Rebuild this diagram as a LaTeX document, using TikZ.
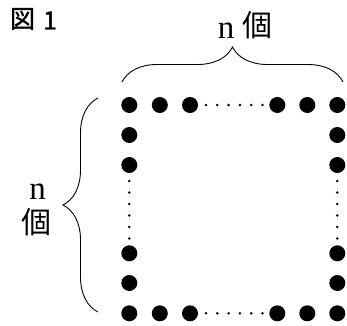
\documentclass[tikz,border=0pt]{standalone}
\usepackage{fontspec}
\newfontfamily\jpfont{Noto Sans CJK JP}
\newfontfamily\jpboldfont[FakeBold=1.2]{Noto Sans CJK JP}
\newfontfamily\serifn{Liberation Serif}
\usetikzlibrary{decorations.pathreplacing}
\begin{document}
\begin{tikzpicture}[x=1pt,y=-1pt,
  bigdot/.style={circle,fill=black,inner sep=0pt,minimum size=16pt},
  smalldot/.style={circle,fill=black,inner sep=0pt,minimum size=2.8pt},
  bracestyle/.style={decorate,decoration={brace,amplitude=35pt},line width=0.9pt},
  lbl/.style={inner sep=0pt,font=\serifn\fontsize{33}{35}\selectfont},
  jp/.style={inner sep=0pt,text height=25pt,text depth=1.2pt,font=\jpfont\fontsize{30}{32}\selectfont},
  title/.style={inner sep=0pt,font=\jpboldfont\fontsize{25}{27}\selectfont}]
\useasboundingbox (0,0) rectangle (347,325);
% corner and side dots
\foreach \name/\x in {c1/129.3,c2/159.8,c3/190,c4/277.3,c5/307.3,c6/337.3}{
  \node[bigdot] (t\name) at (\x,105) {};
  \node[bigdot] (b\name) at (\x,313.3) {};
}
\foreach \name/\y in {r2/135,r3/165,r4/253.3,r5/283}{
  \node[bigdot] (l\name) at (129.3,\y) {};
  \node[bigdot] (r\name) at (337.3,\y) {};
}
% small dots
\foreach \i in {0,...,5}{
  \node[smalldot] (th\i) at (206+11.3*\i,105) {};
  \node[smalldot] (bh\i) at (206+11.3*\i,313.3) {};
  \node[smalldot] (lv\i) at (129.3,181+11.5*\i) {};
  \node[smalldot] (rv\i) at (337.3,181+11.5*\i) {};
}
% braces
\coordinate (tbA) at (122,82);
\coordinate (tbB) at (343,82);
\draw[bracestyle] (tbA) -- (tbB);
\coordinate (lbA) at (98,312);
\coordinate (lbB) at (98,98);
\draw[bracestyle] (lbA) -- (lbB);
% labels
\node[lbl] (ntop) at (226,30.5) {n};
\node[jp] (ktop) at (257,25) {個};
\node[lbl] (nleft) at (37.5,192) {n};
\node[jp] (kleft) at (36.5,221.5) {個};
\node[title] (fig) at (22.5,19) {図};
\node[title] (one) at (50,20.5) {1};
\end{tikzpicture}
\end{document}
